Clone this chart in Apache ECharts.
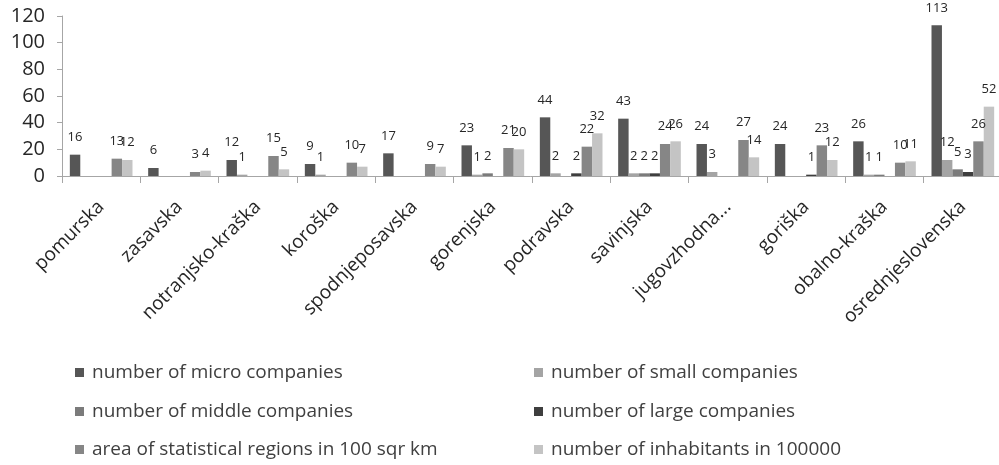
<!DOCTYPE html>
<html>
<head>
<meta charset="utf-8">
<script src="https://cdn.jsdelivr.net/npm/echarts@6/dist/echarts.min.js"></script>
<style>
  html, body { margin: 0; padding: 0; background: #fff; }
  #chart { width: 999px; height: 465px; }
</style>
</head>
<body>
<div id="chart"></div>
<script>
// Statistical regions of Slovenia
const regions = ['pomurska', 'zasavska', 'notranjsko-kraška', 'koroška', 'spodnjeposavska',
  'gorenjska', 'podravska', 'savinjska', 'jugovzhodna...', 'goriška', 'obalno-kraška', 'osrednjeslovenska'];

const microCompanies  = [16, 6, 12, 9, 17, 23, 44, 43, 24, 24, 26, 113];
const smallCompanies  = [0, 0, 1, 1, 0, 1, 2, 2, 3, 0, 1, 12];
const middleCompanies = [0, 0, 0, 0, 0, 2, 0, 2, 0, 0, 1, 5];
const largeCompanies  = [0, 0, 0, 0, 0, 0, 2, 2, 0, 1, 0, 3];
const regionArea      = [13, 3, 15, 10, 9, 21, 22, 24, 27, 23, 10, 26];
const inhabitants     = [12, 4, 5, 7, 7, 20, 32, 26, 14, 12, 11, 52];

const yTicks = { min: 0, max: 120, interval: 20 };

const seriesDefs = [
  { name: 'number of micro companies', data: microCompanies, color: '#565656' },
  { name: 'number of small companies', data: smallCompanies, color: '#a4a4a4' },
  { name: 'number of middle companies', data: middleCompanies, color: '#7b7b7b' },
  { name: 'number of large companies', data: largeCompanies, color: '#3e3e3e' },
  { name: 'area of statistical regions in 100 sqr km', data: regionArea, color: '#868686' },
  { name: 'number of inhabitants in 100000', data: inhabitants, color: '#c4c4c4' }
];

const font = 'Open Sans';
const textDark = '#262626';

// legend laid out in two columns, three rows
const legendCols = [75, 534];
const legendRows = [361, 400, 438];

const chart = echarts.init(document.getElementById('chart'), null, { renderer: 'canvas' });

const legends = seriesDefs.map((s, i) => ({
  left: legendCols[i % 2],
  top: legendRows[Math.floor(i / 2)],
  icon: 'rect',
  itemWidth: 9,
  itemHeight: 9,
  padding: 0,
  selectedMode: false,
  data: [s.name],
  textStyle: { fontFamily: font, fontSize: 19, color: '#404040', lineHeight: 23, padding: [0, 0, 0, 3] }
}));

chart.setOption({
  animation: false,
  backgroundColor: '#ffffff',
  grid: { left: 62, right: -3, top: 16, height: 160, outerBoundsMode: 'none' },
  legend: legends,
  xAxis: {
    type: 'category',
    data: regions,
    axisLine: { lineStyle: { color: '#a6a6a6', width: 1 } },
    axisTick: { show: true, length: 7, lineStyle: { color: '#a6a6a6' } },
    axisLabel: {
      interval: 0,
      rotate: 45,
      margin: 28,
      fontFamily: font,
      fontSize: 19,
      color: textDark
    }
  },
  yAxis: {
    type: 'value',
    min: yTicks.min,
    max: yTicks.max,
    interval: yTicks.interval,
    axisLine: { show: true, lineStyle: { color: '#a6a6a6', width: 1 } },
    axisTick: { show: true, length: 5, lineStyle: { color: '#a6a6a6' } },
    splitLine: { show: false },
    axisLabel: { fontFamily: font, fontSize: 20, color: textDark, margin: 17 }
  },
  series: seriesDefs.map(s => ({
    type: 'bar',
    name: s.name,
    data: s.data,
    barGap: '0%',
    barCategoryGap: '20%',
    itemStyle: { color: s.color },
    label: {
      show: true,
      position: 'top',
      distance: 11,
      fontFamily: font,
      fontSize: 13,
      color: textDark,
      formatter: p => (p.value > 0 ? String(p.value) : '')
    }
  }))
});
</script>
</body>
</html>
